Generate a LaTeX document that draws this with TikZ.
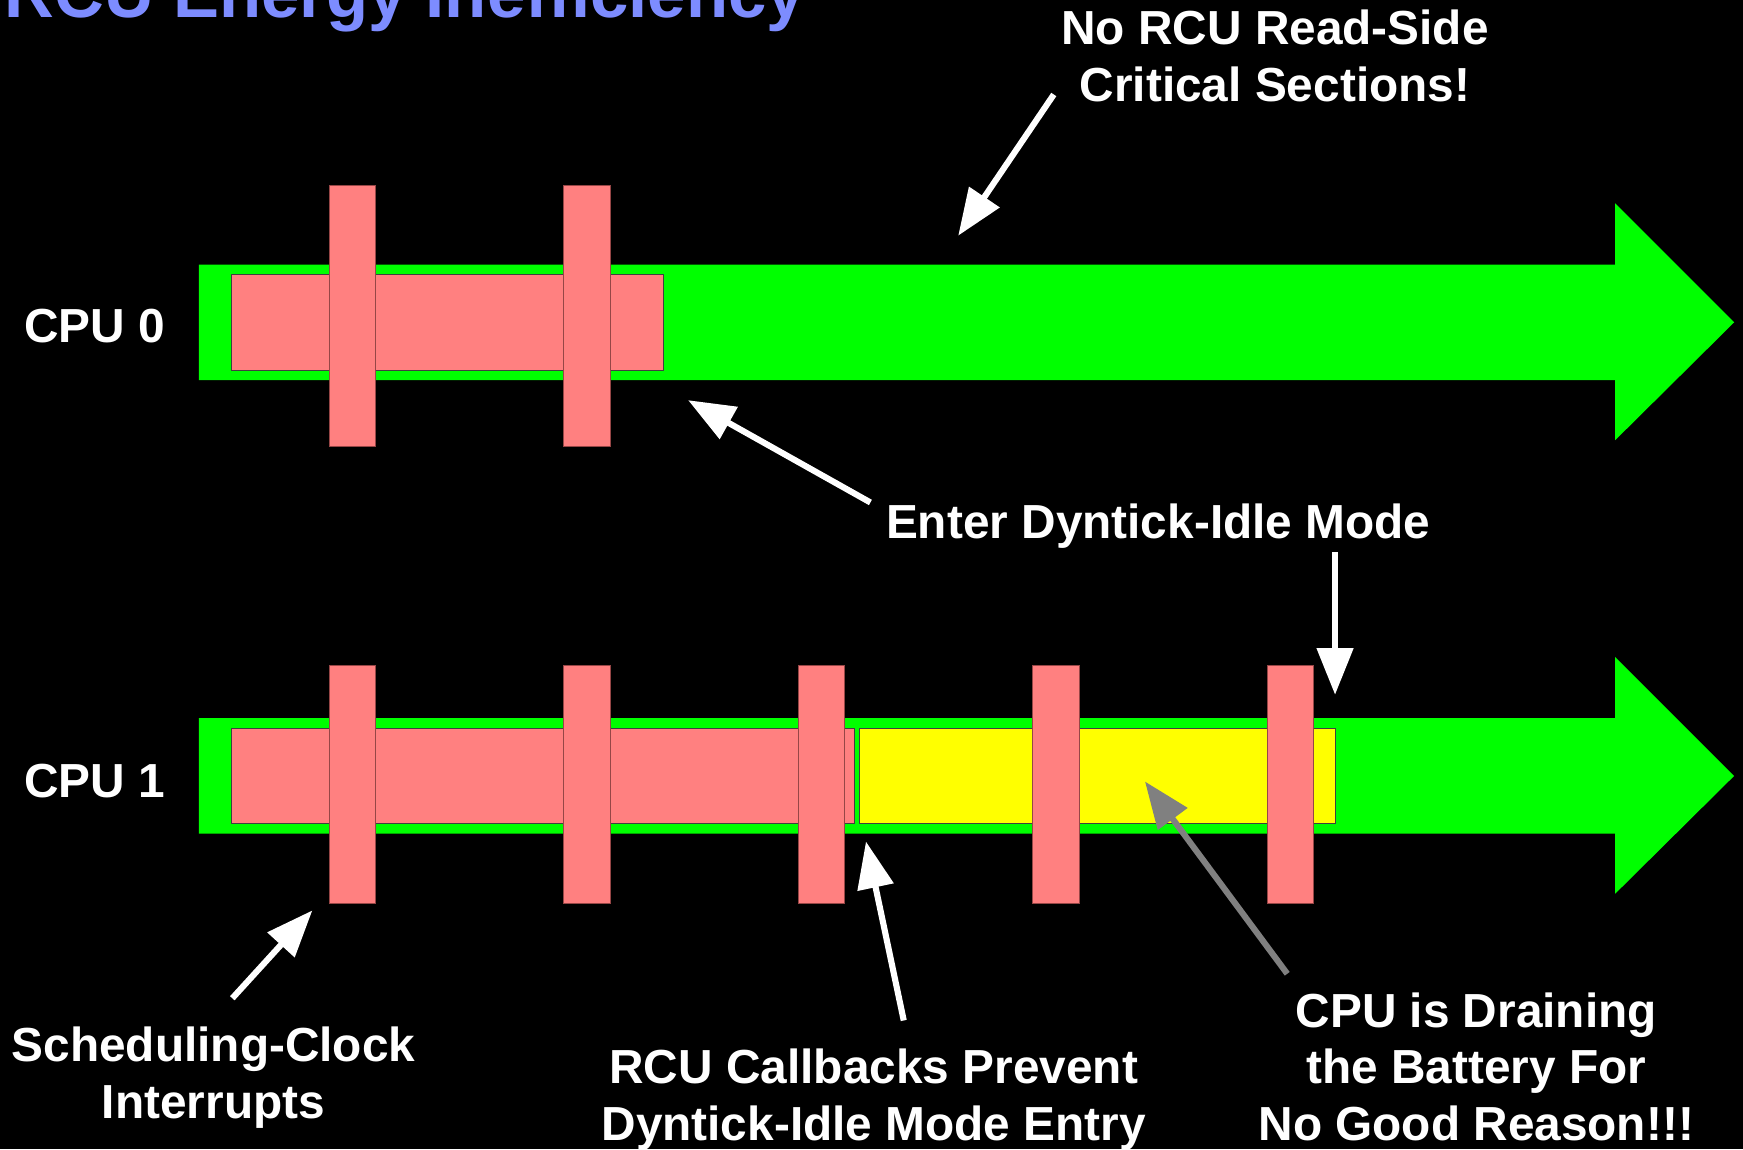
\documentclass[tikz,border=0pt]{standalone}
\usepackage{fontspec}
\setmainfont{Liberation Sans}
\usetikzlibrary{arrows.meta}
\definecolor{cpugreen}{RGB}{0,255,0}
\definecolor{irqpink}{RGB}{255,128,128}
\definecolor{cbyellow}{RGB}{255,255,0}
\definecolor{titleblue}{RGB}{125,140,255}
\definecolor{barline}{RGB}{150,70,70}
\definecolor{drain}{RGB}{128,128,128}
\begin{document}
\begin{tikzpicture}[x=1pt,y=-1pt,
  lbl/.style={text=white, font=\fontsize{43}{51}\selectfont\bfseries, align=center, inner sep=0pt},
  ptr/.style={draw=white, line width=5.5pt, -{Triangle[length=42pt,width=32pt]}},
  gptr/.style={ptr, draw=drain},
  tick/.style={fill=irqpink, draw=barline, line width=0.9pt},
  busy/.style={fill=irqpink, draw=black!75, line width=0.9pt},
  idlewaste/.style={fill=cbyellow, draw=black!75, line width=0.9pt},
  lane/.style={fill=cpugreen},
]
\useasboundingbox (0,0) rectangle (1568,1034);
\clip (0,0) rectangle (1568,1034);
\fill[black] (0,0) rectangle (1568,1034);

% title
\node[anchor=base west, inner sep=0pt, text=titleblue, font=\fontsize{62}{70}\selectfont\bfseries] (title) at (4,16) {RCU Energy Inefficiency};

% CPU 0 lane
\fill[lane] (179,238) -- (1453,238) -- (1453,183) -- (1560,290) -- (1453,396) -- (1453,342) -- (179,342) -- cycle;
\draw[busy] (208,247) rectangle (597,333);
\draw[tick] (296,167) rectangle (338,402);
\draw[tick] (507,167) rectangle (549,402);

% CPU 1 lane
\fill[lane] (179,646) -- (1453,646) -- (1453,591) -- (1560,698) -- (1453,804) -- (1453,750) -- (179,750) -- cycle;
\draw[busy] (208,655) rectangle (769,741);
\draw[idlewaste] (773,655) rectangle (1201,741);
\foreach \x in {296,507,718,929,1140}
  \draw[tick] (\x,599) rectangle (\x+42,813);

% labels (base anchor = baseline of the last line)
\node[lbl, anchor=base] (cpu0) at (85,308) {CPU 0};
\node[lbl, anchor=base] (cpu1) at (85,717) {CPU 1};
\node[lbl, anchor=base] (noread) at (1147,91) {No RCU Read-Side\\Critical Sections!};
\node[lbl, anchor=base] (enter) at (1042,484) {Enter Dyntick-Idle Mode};
\node[lbl, anchor=base] (sched) at (192,1006) {Scheduling-Clock\\Interrupts};
\node[lbl, anchor=base] (cbs) at (786,1026) {RCU Callbacks Prevent\\Dyntick-Idle Mode Entry};
\node[lbl, anchor=base] (drainlbl) at (1328,1026) {CPU is Draining\\the Battery For\\No Good Reason!!!};

% arrow end points
\coordinate (nrTail) at (948,85);   \coordinate (nrTip) at (862,212);
\coordinate (en0Tail) at (783,452); \coordinate (en0Tip) at (619,360);
\coordinate (en1Tail) at (1201,497);\coordinate (en1Tip) at (1201,625);
\coordinate (scTail) at (209,898);  \coordinate (scTip) at (281,819);
\coordinate (cbTail) at (813,918);  \coordinate (cbTip) at (779,757);
\coordinate (drTail) at (1158,876); \coordinate (drTip) at (1030,703);

\draw[ptr] (nrTail) -- (nrTip);
\draw[ptr] (en0Tail) -- (en0Tip);
\draw[ptr] (en1Tail) -- (en1Tip);
\draw[ptr] (scTail) -- (scTip);
\draw[ptr] (cbTail) -- (cbTip);
\draw[gptr] (drTail) -- (drTip);
\end{tikzpicture}
\end{document}
